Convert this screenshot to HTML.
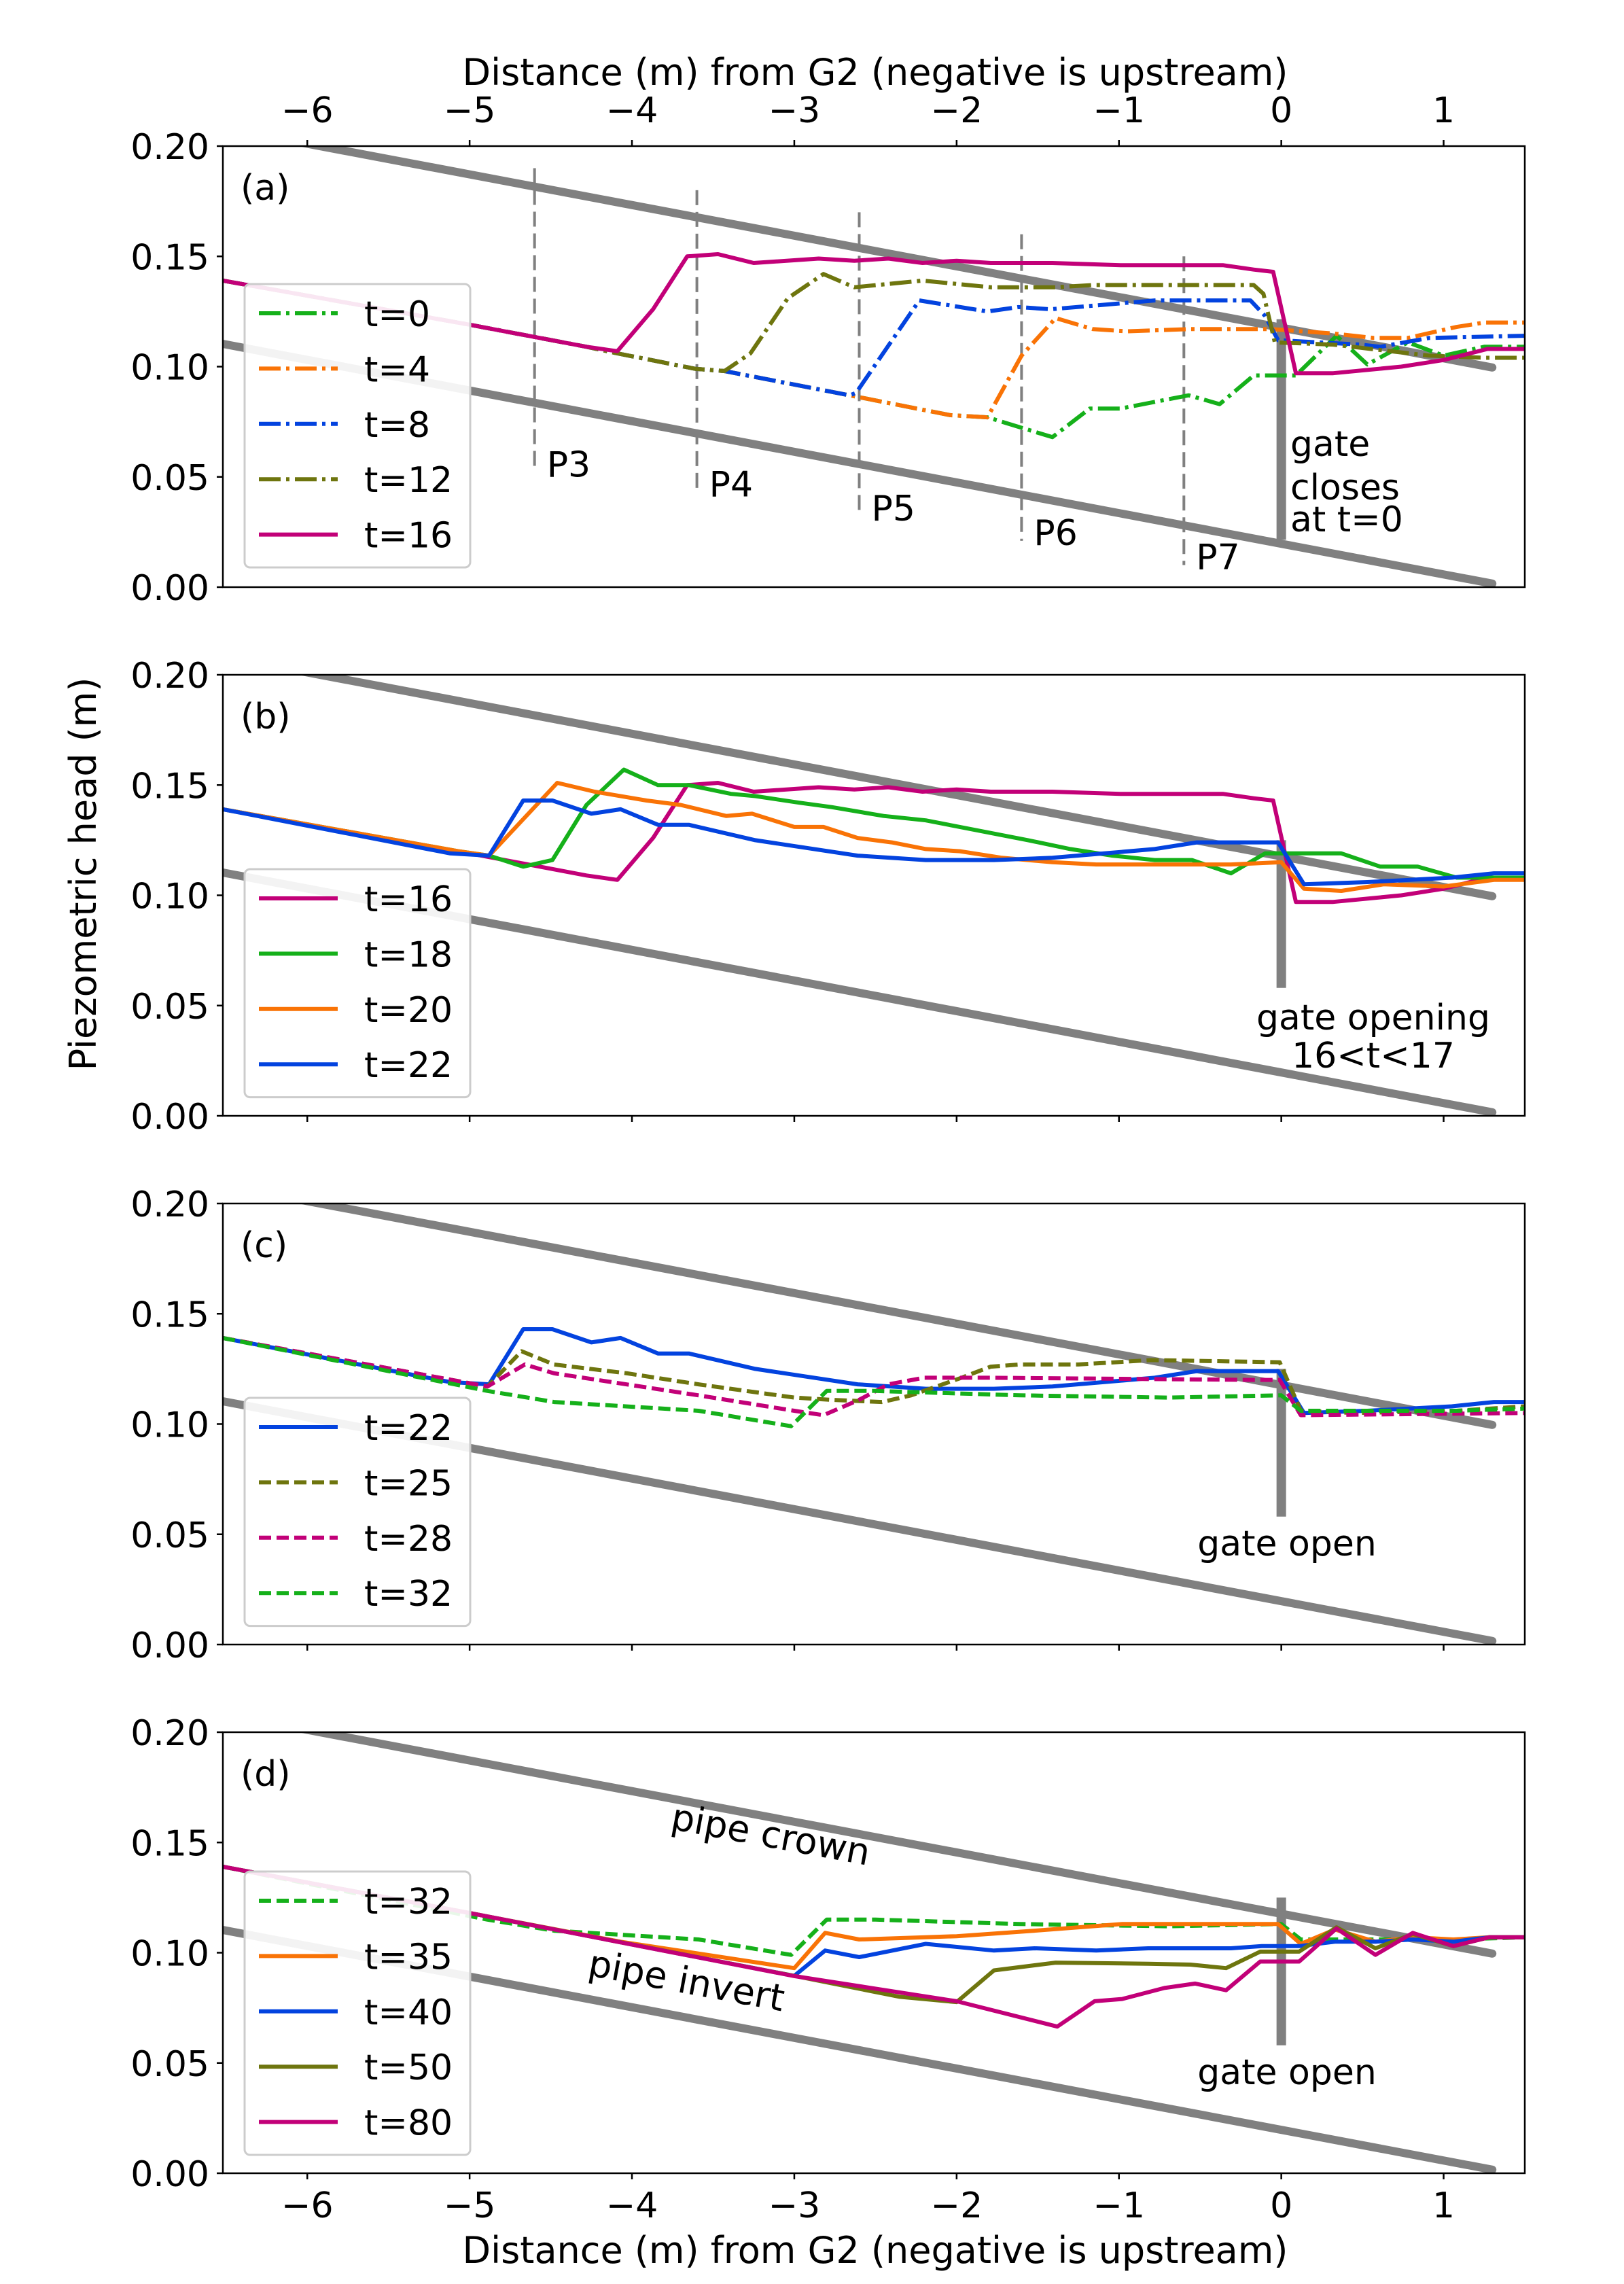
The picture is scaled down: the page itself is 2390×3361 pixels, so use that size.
<!DOCTYPE html>
<html><head><meta charset="utf-8">
<style>
html,body{margin:0;padding:0;background:#fff}
svg{display:block;font-family:"DejaVu Sans","Liberation Sans",sans-serif}
</style></head>
<body>
<svg id="fig" width="2390" height="3361" viewBox="0 0 2390 3361" xmlns="http://www.w3.org/2000/svg"></svg>
<script>
// ---- data ----
const xTicks = [-6,-5,-4,-3,-2,-1,0,1];
const xTickLabels = ["\u22126","\u22125","\u22124","\u22123","\u22122","\u22121","0","1"];
const yTicks = [0,0.05,0.10,0.15,0.20];
const yTickLabels = ["0.00","0.05","0.10","0.15","0.20"];
const panelLabels = ["(a)","(b)","(c)","(d)"];
const pipeX = [-6.52, 1.3];
const crownY = [0.2083, 0.0996];
const invertY = [0.1103, 0.0016];
const probeX = [-4.6,-3.6,-2.6,-1.6,-0.6];
const probeTop = [0.19,0.18,0.17,0.16,0.15];
const probeBot = [0.052,0.043,0.032,0.021,0.010];
const probeNames = ["P3","P4","P5","P6","P7"];

// panel (a)
const aT0x = [-6.52,-5.0,-4.28,-4.09,-3.61,-3.43,-2.66,-2.04,-1.81,-1.41,-1.18,-0.99,-0.57,-0.38,-0.17,0.09,0.34,0.53,0.78,1.0,1.25,1.5];
const aT0y = [0.139,0.119,0.109,0.106,0.099,0.098,0.087,0.078,0.077,0.068,0.081,0.081,0.087,0.083,0.096,0.096,0.114,0.101,0.111,0.105,0.109,0.109];
const aT4x = [-6.52,-5.0,-4.28,-4.09,-3.61,-3.43,-2.66,-2.04,-1.81,-1.60,-1.39,-1.16,-0.95,-0.57,-0.06,0.32,0.57,0.78,1.08,1.25,1.5];
const aT4y = [0.139,0.119,0.109,0.106,0.099,0.098,0.087,0.078,0.077,0.105,0.122,0.117,0.116,0.117,0.117,0.115,0.113,0.113,0.118,0.120,0.120];
const aT8x = [-6.52,-5.0,-4.28,-4.09,-3.61,-3.43,-2.66,-2.62,-2.23,-1.81,-1.62,-1.42,-0.78,-0.19,-0.10,-0.02,0.49,0.61,0.91,1.5];
const aT8y = [0.139,0.119,0.109,0.106,0.099,0.098,0.087,0.088,0.130,0.125,0.127,0.126,0.130,0.130,0.123,0.112,0.110,0.109,0.113,0.114];
const aT12x = [-6.52,-5.0,-4.28,-4.09,-3.61,-3.43,-3.27,-3.04,-2.82,-2.63,-2.21,-1.79,-1.39,-1.16,-0.17,-0.11,-0.04,0.32,0.91,1.25,1.5];
const aT12y = [0.139,0.119,0.109,0.106,0.099,0.098,0.106,0.131,0.142,0.136,0.139,0.136,0.136,0.137,0.137,0.133,0.111,0.110,0.105,0.104,0.104];
const aT16x = [-6.52,-5.0,-4.28,-4.09,-3.87,-3.66,-3.47,-3.25,-2.85,-2.63,-2.42,-2.21,-2.0,-1.79,-1.41,-0.99,-0.36,-0.17,-0.05,0.09,0.32,0.74,1.0,1.27,1.5];
const aT16y = [0.139,0.119,0.109,0.107,0.126,0.150,0.151,0.147,0.149,0.148,0.149,0.147,0.148,0.147,0.147,0.146,0.146,0.144,0.143,0.097,0.097,0.100,0.103,0.108,0.108];

// panel (b)
const bT18x = [-6.52,-5.07,-4.88,-4.67,-4.49,-4.28,-4.05,-3.84,-3.65,-3.39,-3.24,-2.97,-2.77,-2.45,-2.19,-1.98,-1.56,-1.30,-1.04,-0.78,-0.55,-0.31,-0.10,0.37,0.61,0.84,1.08,1.5];
const bT18y = [0.139,0.120,0.118,0.113,0.116,0.141,0.157,0.150,0.150,0.146,0.145,0.142,0.140,0.136,0.134,0.131,0.125,0.121,0.118,0.116,0.116,0.110,0.119,0.119,0.113,0.113,0.108,0.108];
const bT20x = [-6.52,-5.07,-4.88,-4.46,-4.23,-3.91,-3.70,-3.42,-3.26,-3.00,-2.82,-2.61,-2.40,-2.19,-1.98,-1.72,-1.41,-1.14,-0.78,-0.31,0.0,0.14,0.37,0.63,1.0,1.31,1.5];
const bT20y = [0.139,0.120,0.118,0.151,0.147,0.143,0.141,0.136,0.137,0.131,0.131,0.126,0.124,0.121,0.120,0.117,0.115,0.114,0.114,0.114,0.115,0.103,0.102,0.105,0.104,0.107,0.107];
const bT22x = [-6.52,-5.12,-4.88,-4.67,-4.49,-4.25,-4.07,-3.84,-3.65,-3.24,-2.61,-2.19,-1.77,-1.41,-1.09,-0.78,-0.52,-0.31,-0.02,0.14,0.53,1.05,1.31,1.5];
const bT22y = [0.139,0.119,0.118,0.143,0.143,0.137,0.139,0.132,0.132,0.125,0.118,0.116,0.116,0.117,0.119,0.121,0.124,0.124,0.124,0.105,0.106,0.108,0.110,0.110];

// panel (c)
const cT25x = [-6.52,-4.89,-4.68,-4.48,-4.03,-3.59,-3.0,-2.78,-2.46,-2.28,-1.97,-1.79,-1.61,-1.25,-0.8,-0.01,0.12,0.45,1.08,1.5];
const cT25y = [0.139,0.117,0.133,0.127,0.123,0.118,0.112,0.111,0.110,0.113,0.121,0.126,0.127,0.127,0.129,0.128,0.106,0.105,0.106,0.108];
const cT28x = [-6.52,-4.89,-4.66,-4.48,-3.59,-3.0,-2.82,-2.60,-2.42,-2.20,-1.79,-0.17,-0.01,0.12,1.5];
const cT28y = [0.139,0.117,0.127,0.123,0.113,0.106,0.104,0.111,0.118,0.121,0.121,0.120,0.120,0.104,0.105];
const cT32x = [-6.52,-4.89,-4.48,-3.59,-3.02,-2.80,-2.50,-1.61,-0.7,0.0,0.12,0.55,1.08,1.5];
const cT32y = [0.139,0.115,0.110,0.106,0.099,0.115,0.115,0.113,0.112,0.113,0.106,0.106,0.106,0.107];

// panel (d)
const dT35x = [-6.52,-5.0,-4.07,-3.0,-2.81,-2.6,-2.0,-1.52,-0.98,-0.34,-0.02,0.12,0.33,0.58,0.81,1.06,1.28,1.5];
const dT35y = [0.139,0.118,0.105,0.093,0.109,0.106,0.1075,0.110,0.113,0.113,0.113,0.104,0.1105,0.105,0.107,0.106,0.107,0.107];
const dT40x = [-6.52,-5.0,-3.0,-2.81,-2.6,-2.19,-1.77,-1.52,-1.14,-0.82,-0.31,-0.12,0.11,0.33,0.58,0.81,1.06,1.28,1.5];
const dT40y = [0.139,0.118,0.0895,0.101,0.098,0.104,0.101,0.102,0.101,0.102,0.102,0.103,0.103,0.105,0.105,0.106,0.105,0.107,0.107];
const dT50x = [-6.52,-5.0,-3.0,-2.35,-2.0,-1.77,-1.39,-0.82,-0.56,-0.34,-0.13,0.11,0.34,0.58,0.81,1.06,1.28,1.5];
const dT50y = [0.139,0.118,0.0895,0.080,0.0776,0.092,0.0955,0.095,0.0946,0.093,0.1005,0.1005,0.1115,0.102,0.1085,0.103,0.107,0.107];
const dT80x = [-6.52,-5.0,-3.0,-2.0,-1.38,-1.15,-0.98,-0.72,-0.53,-0.34,-0.13,0.11,0.34,0.58,0.81,1.06,1.28,1.5];
const dT80y = [0.139,0.118,0.0894,0.078,0.0665,0.078,0.079,0.084,0.086,0.083,0.096,0.096,0.111,0.099,0.109,0.103,0.107,0.107];

// ---- styling / geometry ----
const C = {green:"#15b01a", orange:"#f97306", blue:"#0343df", olive:"#6e750e", magenta:"#c20078"};
const DD = "32,8,5,8", DS = "18,8";
const panels = [
 {series:[["t=0",aT0x,aT0y,C.green,DD],["t=4",aT4x,aT4y,C.orange,DD],["t=8",aT8x,aT8y,C.blue,DD],["t=12",aT12x,aT12y,C.olive,DD],["t=16",aT16x,aT16y,C.magenta,null]]},
 {series:[["t=16",aT16x,aT16y,C.magenta,null],["t=18",bT18x,bT18y,C.green,null],["t=20",bT20x,bT20y,C.orange,null],["t=22",bT22x,bT22y,C.blue,null]]},
 {series:[["t=22",bT22x,bT22y,C.blue,null],["t=25",cT25x,cT25y,C.olive,DS],["t=28",cT28x,cT28y,C.magenta,DS],["t=32",cT32x,cT32y,C.green,DS]]},
 {series:[["t=32",cT32x,cT32y,C.green,DS],["t=35",dT35x,dT35y,C.orange,null],["t=40",dT40x,dT40y,C.blue,null],["t=50",dT50x,dT50y,C.olive,null],["t=80",dT80x,dT80y,C.magenta,null]]}
];
const L=328, R=2244, H=649, tops=[215,993,1771,2549];
const legendTops=[418,1279,2057,2754];
const X0=-6.52, X1=1.5;
const NS="http://www.w3.org/2000/svg";
const svg=document.getElementById("fig");
function el(tag,attrs,parent){const e=document.createElementNS(NS,tag);for(const k in attrs)e.setAttribute(k,attrs[k]);(parent||svg).appendChild(e);return e;}
function sx(x){return L+(x-X0)/(X1-X0)*(R-L);}
function syF(top){return y=>top+H-(y/0.2)*H;}
const FS=52;

panels.forEach((p,pi)=>{
  const top=tops[pi], sy=syF(top);
  const g=el("g",{});
  
  
  const cp=el("clipPath",{id:"clip"+pi},g);
  el("rect",{x:L,y:top,width:R-L,height:H},cp);
  const pg=el("g",{"clip-path":"url(#clip"+pi+")"},g);
  const crown=el("line",{x1:sx(pipeX[0]),y1:sy(crownY[0]),x2:sx(pipeX[1]),y2:sy(crownY[1]),stroke:"#808080","stroke-width":12,"stroke-linecap":"round"},pg);
  
  
  const inv=el("line",{x1:sx(pipeX[0]),y1:sy(invertY[0]),x2:sx(pipeX[1]),y2:sy(invertY[1]),stroke:"#808080","stroke-width":12,"stroke-linecap":"round"},pg);
  
  
  const gy0 = pi===0?0.0215:0.058, gy1 = pi===0?0.1215:0.125;
  const gate=el("line",{x1:sx(0),y1:sy(gy0),x2:sx(0),y2:sy(gy1),stroke:"#808080","stroke-width":14},pg);
  
  
  if(pi===0){
    probeX.forEach((px,i)=>{
      const l=el("line",{x1:sx(px),y1:sy(probeTop[i]),x2:sx(px),y2:sy(probeBot[i]),stroke:"#808080","stroke-width":4,"stroke-dasharray":"22,10"},pg);
      
      
      const t=el("text",{x:sx(px)+18,y:sy(probeBot[i])+6,"font-size":FS},g);
      t.textContent=probeNames[i];
      
      
    });
  }
  p.series.forEach(s=>{
    const pts=s[1].map((x,i)=>sx(x).toFixed(1)+","+sy(s[2][i]).toFixed(1)).join(" ");
    const a={points:pts,fill:"none",stroke:s[3],"stroke-width":6,"stroke-linejoin":"round"};
    if(s[4])a["stroke-dasharray"]=s[4];
    const pl=el("polyline",a,pg);
    
    
  });
  const fr=el("rect",{x:L,y:top,width:R-L,height:H,fill:"none",stroke:"#000","stroke-width":2.5},g);
  
  
  yTicks.forEach((v,i)=>{
    el("line",{x1:L-9,y1:sy(v),x2:L,y2:sy(v),stroke:"#000","stroke-width":2.5},g);
    const t=el("text",{x:L-20,y:sy(v)+19,"font-size":FS,"text-anchor":"end"},g);
    t.textContent=yTickLabels[i];
    
    
  });
  xTicks.forEach((v,i)=>{
    if(pi===0){
      el("line",{x1:sx(v),y1:top-9,x2:sx(v),y2:top,stroke:"#000","stroke-width":2.5},g);
      const t=el("text",{x:sx(v),y:180,"font-size":FS,"text-anchor":"middle"},g);
      t.textContent=xTickLabels[i];
      
      
    } else {
      el("line",{x1:sx(v),y1:top+H,x2:sx(v),y2:top+H+9,stroke:"#000","stroke-width":2.5},g);
      if(pi===3){
        const t=el("text",{x:sx(v),y:top+H+65,"font-size":FS,"text-anchor":"middle"},g);
        t.textContent=xTickLabels[i];
        
        
      }
    }
  });
  const pl=el("text",{x:354,y:top+79,"font-size":FS},g);
  pl.textContent=panelLabels[pi];
  
  
  const n=p.series.length, sp=81.4;
  const lyTop = legendTops[pi];
  const lh = n*sp+10;
  const lg=el("g",{},g);
  
  
  el("rect",{x:360,y:lyTop,width:332,height:lh,rx:8,fill:"#fff","fill-opacity":0.9,stroke:"#cccccc","stroke-width":3},lg);
  p.series.forEach((s,i)=>{
    const cy=lyTop+43+i*sp;
    const a={x1:381,y1:cy,x2:497,y2:cy,stroke:s[3],"stroke-width":6};
    if(s[4])a["stroke-dasharray"]=s[4];
    el("line",a,lg);
    const t=el("text",{x:536,y:cy+19,"font-size":FS},lg);
    t.textContent=s[0];
    
    
  });
});

function txt(x,y,s,name,extra){const t=el("text",Object.assign({x:x,y:y,"font-size":FS},extra||{}));t.textContent=s;return t;}
txt(1288,125,"Distance (m) from G2 (negative is upstream)","x-axis-title-top",{"text-anchor":"middle","font-size":54});
txt(1288,3330,"Distance (m) from G2 (negative is upstream)","x-axis-title-bottom",{"text-anchor":"middle","font-size":54});
txt(0,0,"Piezometric head (m)","y-axis-title",{"text-anchor":"middle","font-size":54,transform:"translate(141,1286) rotate(-90)"});
txt(1899,671,"gate","gate-annotation",{});
txt(1899,735,"closes","gate-annotation",{});
txt(1899,782,"at t=0","gate-annotation",{});
txt(2021,1515,"gate opening","gate-annotation",{"text-anchor":"middle"});
txt(2021,1571,"16<t<17","gate-annotation",{"text-anchor":"middle"});
txt(1894,2289,"gate open","gate-annotation",{"text-anchor":"middle"});
txt(1894,3067,"gate open","gate-annotation",{"text-anchor":"middle"});
txt(0,0,"pipe crown","pipe-crown-label",{"text-anchor":"middle","font-size":54,transform:"translate(1131,2718) rotate(10.5)"});
txt(0,0,"pipe invert","pipe-invert-label",{"text-anchor":"middle","font-size":54,transform:"translate(1007,2933) rotate(10.5)"});
</script>
</body></html>
